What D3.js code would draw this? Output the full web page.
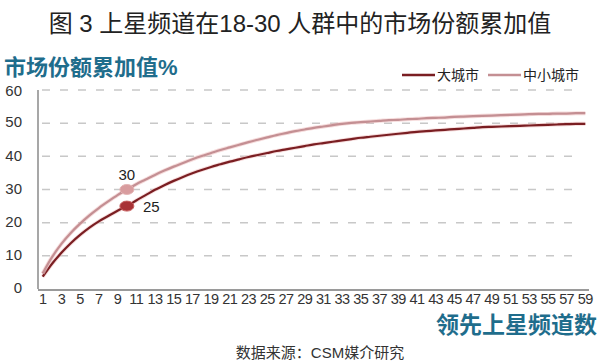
<!DOCTYPE html>
<html>
<head>
<meta charset="utf-8">
<style>
    body { margin: 0; background: #fff; }
    svg text { font-family: "Liberation Sans", Arial, "Noto Sans CJK SC", sans-serif; }
    .grid line { stroke: #c8c8c8; stroke-width: 1.5; stroke-dasharray: 8 10; }
</style>
</head>
<body>
<div id="chart"></div>
<script src="https://cdn.jsdelivr.net/npm/d3@7"></script>
<script>

//////////////////// donnees ////////////////////
let channels = d3.range(1, 60);
let bigCity = [
    3.7, 7.6, 10.9, 13.8, 16.3, 18.5, 20.4, 22.0, 23.6, 25.0,
    26.7, 28.3, 29.9, 31.3, 32.6, 33.8, 34.9, 35.9, 36.8, 37.6,
    38.4, 39.1, 39.8, 40.4, 41.0, 41.6, 42.1, 42.6, 43.1, 43.6,
    44.0, 44.4, 44.8, 45.2, 45.6, 45.9, 46.2, 46.5, 46.8, 47.1,
    47.4, 47.6, 47.8, 48.0, 48.2, 48.4, 48.6, 48.8, 48.9, 49.0,
    49.1, 49.2, 49.3, 49.4, 49.5, 49.6, 49.7, 49.8, 49.8
];
let smallCity = [
    4.7, 9.6, 13.6, 16.9, 19.7, 22.2, 24.4, 26.4, 28.3, 30.0,
    31.6, 33.0, 34.4, 35.7, 36.9, 38.0, 39.1, 40.1, 41.0, 41.9,
    42.7, 43.5, 44.3, 45.0, 45.7, 46.4, 47.0, 47.6, 48.1, 48.6,
    49.0, 49.4, 49.8, 50.1, 50.3, 50.5, 50.7, 50.9, 51.0, 51.2,
    51.3, 51.5, 51.6, 51.7, 51.9, 52.0, 52.1, 52.2, 52.3, 52.4,
    52.5, 52.6, 52.7, 52.8, 52.8, 52.9, 52.9, 53.0, 53.0
];
let yTicks = [0, 10, 20, 30, 40, 50, 60];
let xTickLabels = d3.range(1, 60, 2);
let seriesNames = ['大城市', '中小城市'];
let highlights = [
    { serie: 1, channel: 10, label: '30' },
    { serie: 0, channel: 10, label: '25' }
];

//////////////////// mise en page ////////////////////
let W = 600, H = 362;
let plotL = 38, plotR = 590, plotT = 90, plotB = 289;
let colors = ['#7a1e22', '#c48f93'];
let markerFill = ['#a83236', '#d89c9e'];
let teal = '#1f6d8c';

let svg = d3.select('#chart').append('svg')
    .attr('width', W)
    .attr('height', H);

let x = d3.scaleBand()
    .domain(channels)
    .range([plotL, plotR]);

let y = d3.scaleLinear()
    .domain([0, 60])
    .range([plotB, plotT]);

let cx = d => x(d) + x.bandwidth() / 2;

// grille
svg.append('g')
    .classed('grid', true)
    .selectAll('line')
    .data(yTicks.filter(t => t > 0))
    .join('line')
    .attr('x1', plotL + 4)
    .attr('x2', 582)
    .attr('y1', d => y(d))
    .attr('y2', d => y(d));

// axes
svg.append('line')
    .attr('x1', plotL).attr('x2', plotL)
    .attr('y1', plotT).attr('y2', plotB)
    .attr('stroke', '#8a8a8a')
    .attr('stroke-width', 1.5);

svg.append('line')
    .attr('x1', plotL).attr('x2', 589)
    .attr('y1', plotB + 1).attr('y2', plotB + 1)
    .attr('stroke', '#9a9a9a')
    .attr('stroke-width', 2);

svg.append('g')
    .selectAll('text')
    .data(yTicks)
    .join('text')
    .attr('x', 22)
    .attr('y', d => y(d) + (d == 60 ? 1 : -1))
    .attr('dy', '0.35em')
    .attr('text-anchor', 'end')
    .attr('font-size', 15)
    .attr('fill', '#333')
    .text(d => d);

svg.append('g')
    .selectAll('text')
    .data(xTickLabels)
    .join('text')
    .attr('x', d => cx(d))
    .attr('y', 304)
    .attr('text-anchor', 'middle')
    .attr('font-size', 14.5)
    .attr('letter-spacing', -0.6)
    .attr('fill', '#333')
    .text(d => d);

// courbes
let line = d3.line()
    .x((d, i) => cx(channels[i]))
    .y(d => y(d))
    .curve(d3.curveMonotoneX);

[bigCity, smallCity].forEach((serie, idx) => {
    svg.append('path')
        .datum(serie)
        .attr('d', line)
        .attr('fill', 'none')
        .attr('stroke', '#f0c4c4')
        .attr('stroke-width', 4)
        .attr('opacity', 0.6);
    svg.append('path')
        .datum(serie)
        .attr('d', line)
        .attr('fill', 'none')
        .attr('stroke', colors[idx])
        .attr('stroke-width', 2.2);
});

// points marques
let series = [bigCity, smallCity];
highlights.forEach(h => {
    let v = series[h.serie][channels.indexOf(h.channel)];
    svg.append('ellipse')
        .attr('cx', cx(h.channel))
        .attr('cy', y(v))
        .attr('rx', 7)
        .attr('ry', 5)
        .attr('fill', markerFill[h.serie])
        .attr('stroke', h.serie == 0 ? '#c86060' : '#e4b4b4')
        .attr('stroke-width', 1);
    let lbl = svg.append('text')
        .attr('font-size', 15)
        .attr('fill', '#222')
        .text(h.label);
    if (h.serie == 1) {
        lbl.attr('x', cx(h.channel)).attr('y', y(v) - 10).attr('text-anchor', 'middle');
    } else {
        lbl.attr('x', cx(h.channel) + 16).attr('y', y(v) + 6).attr('text-anchor', 'start');
    }
});

// legende
let legendX = [402, 488];
seriesNames.forEach((name, idx) => {
    svg.append('line')
        .attr('x1', legendX[idx]).attr('x2', legendX[idx] + 33)
        .attr('y1', 75).attr('y2', 75)
        .attr('stroke', colors[idx])
        .attr('stroke-width', 2.5);
    svg.append('text')
        .attr('x', legendX[idx] + 35)
        .attr('y', 75)
        .attr('dy', '0.35em')
        .attr('font-size', 14)
        .attr('fill', '#222')
        .text(name);
});

// titres
svg.append('text')
    .attr('x', 300)
    .attr('y', 32)
    .attr('text-anchor', 'middle')
    .attr('font-size', 24)
    .attr('fill', '#222')
    .text('图 3 上星频道在18-30 人群中的市场份额累加值');

svg.append('text')
    .attr('x', 4)
    .attr('y', 75)
    .attr('font-size', 22)
    .attr('font-weight', 'bold')
    .attr('fill', teal)
    .text('市场份额累加值%');

svg.append('text')
    .attr('x', 597)
    .attr('y', 333)
    .attr('text-anchor', 'end')
    .attr('font-size', 23)
    .attr('font-weight', 'bold')
    .attr('fill', teal)
    .text('领先上星频道数');

svg.append('text')
    .attr('x', 320)
    .attr('y', 358)
    .attr('text-anchor', 'middle')
    .attr('font-size', 15)
    .attr('fill', '#333')
    .text('数据来源：CSM媒介研究');

</script>
</body>
</html>
